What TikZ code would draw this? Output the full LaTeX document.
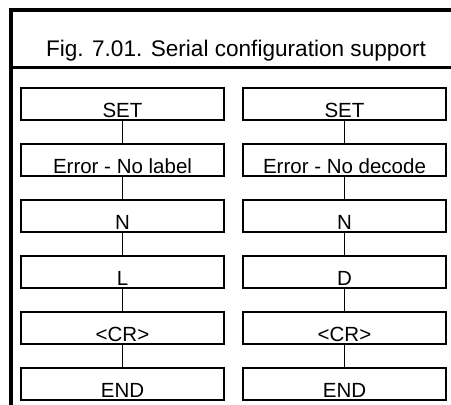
\documentclass[tikz,border=0pt]{standalone}
\usepackage{fontspec}
\setmainfont{Liberation Sans}
\begin{document}
\begin{tikzpicture}[x=1pt,y=-1pt,
  framebar/.style={line width=3.5pt},
  sepbar/.style={line width=2.8pt},
  stepbox/.style={draw, line width=1.5pt, minimum width=203pt, minimum height=32pt,
    inner sep=0pt, text height=27pt, text depth=1pt,
    font=\fontsize{20.5}{24}\selectfont},
  link/.style={line width=1.4pt},
  titletext/.style={anchor=base, inner sep=0pt, font=\fontsize{22.6}{27}\selectfont}]
\useasboundingbox (0,0) rectangle (451,405);
\fill[white] (0,0) rectangle (451,405);
% frame
\coordinate (ftl) at (11,10);
\coordinate (ftr) at (451,10);
\coordinate (fbl) at (11,405);
\coordinate (sl) at (11,67.5);
\coordinate (sr) at (451,67.5);
\draw[framebar] (fbl) -- (ftl) -- (ftr);
\draw[sepbar] (sl) -- (sr);
\node[titletext] (title) at (236,56) {Fig. 7.01. Serial configuration support};
% left column
\node[stepbox] (a1) at (122.5,104) {SET};
\node[stepbox] (a2) at (122.5,160) {Error - No label};
\node[stepbox] (a3) at (122.5,216) {N};
\node[stepbox] (a4) at (122.5,272) {L};
\node[stepbox] (a5) at (122.5,328) {<CR>};
\node[stepbox] (a6) at (122.5,384) {END};
% right column
\node[stepbox] (b1) at (344.5,104) {SET};
\node[stepbox] (b2) at (344.5,160) {Error - No decode};
\node[stepbox] (b3) at (344.5,216) {N};
\node[stepbox] (b4) at (344.5,272) {D};
\node[stepbox] (b5) at (344.5,328) {<CR>};
\node[stepbox] (b6) at (344.5,384) {END};
\foreach \i/\j in {1/2,2/3,3/4,4/5,5/6}{
  \draw[link] (a\i.south) -- (a\j.north);
  \draw[link] (b\i.south) -- (b\j.north);
}
\end{tikzpicture}
\end{document}
